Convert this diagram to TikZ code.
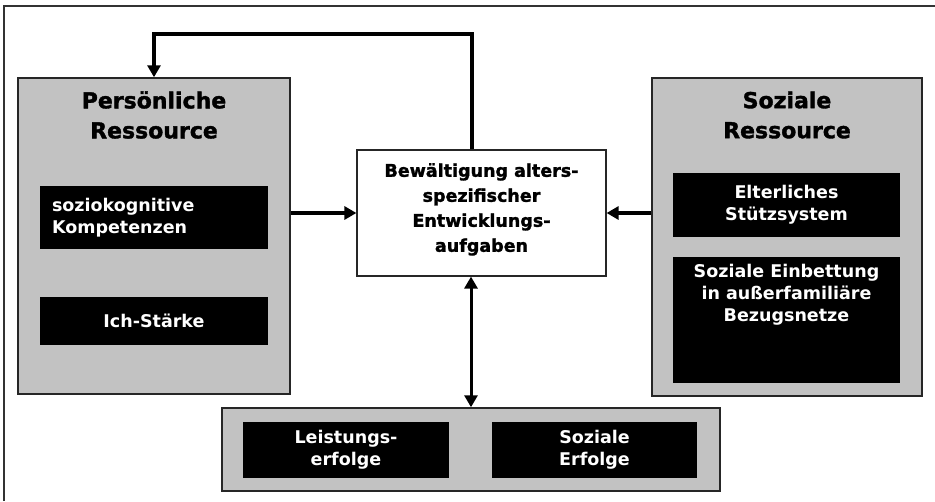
\documentclass[tikz,border=0pt]{standalone}
\usepackage{fontspec}
\setmainfont{DejaVu Sans}
\newfontfamily\fettschrift{DejaVu Sans}[BoldFeatures={FakeBold=1.6}]
\usetikzlibrary{arrows.meta, positioning, calc}
\definecolor{rastergrau}{RGB}{194, 194, 194}

\begin{document}
\begin{tikzpicture}[
    x=1pt, y=-1pt,
    rahmen/.style={draw=black!85, line width=1.5pt, fill=rastergrau, inner sep=0pt},
    schwarz/.style={fill=black, text=white, align=center, inner sep=0pt,
                    font=\fontsize{17.5}{22}\selectfont\bfseries},
    titel/.style={align=center, font=\fettschrift\fontsize{22}{30}\selectfont\bfseries},
    mitte/.style={draw=black!85, line width=1.2pt, fill=white, align=center,
                  inner sep=0pt, font=\fettschrift\fontsize{17.5}{25}\selectfont\bfseries},
    pfeil/.style={-{Triangle[length=12pt, width=13pt]}, line width=4pt},
    doppelpfeil/.style={{Triangle[length=12pt, width=13pt]}-{Triangle[length=12pt, width=13pt]}, line width=3pt}
  ]
    \useasboundingbox (0,0) rectangle (935,501);
    \draw[line width=1.2pt, black!80] (4,501) -- (4,6) -- (935,6);

    % Ressourcen links und rechts
    \node[rahmen, minimum width=272pt, minimum height=316pt] (pers) at (154,236) {};
    \node[titel] (perstitel) at (154,115) {Persönliche\\Ressource};
    \node[schwarz, minimum width=228pt, minimum height=63pt, text width=204pt, align=left] (kog) at (154,217.5) {soziokognitive\\Kompetenzen};
    \node[schwarz, minimum width=228pt, minimum height=48pt] (ich) at (154,321) {Ich-Stärke};

    \node[rahmen, minimum width=270pt, minimum height=318pt] (soz) at (787,237) {};
    \node[titel] (soztitel) at (787,115) {Soziale\\Ressource};
    \node[schwarz, minimum width=227pt, minimum height=64pt] (eltern) at (786.5,205) {Elterliches\\Stützsystem};
    \node[schwarz, minimum width=227pt, minimum height=126pt] (einbett) at (786.5,320)
      {\parbox[c][112pt][t]{220pt}{\centering Soziale Einbettung\\in außerfamiliäre\\Bezugsnetze}};

    % Entwicklungsaufgaben
    \node[mitte, minimum width=249pt, minimum height=126pt] (ziel) at (481.5,213)
      {Bewältigung alters-\\spezifischer\\Entwicklungs-\\aufgaben\\[-14pt]};

    % Erfolge unten
    \node[rahmen, minimum width=498pt, minimum height=83pt] (erfolg) at (471,449.5) {};
    \node[schwarz, minimum width=206pt, minimum height=56pt] (leist) at (346,450) {Leistungs-\\erfolge};
    \node[schwarz, minimum width=205pt, minimum height=56pt] (serf) at (594.5,450) {Soziale\\Erfolge};

    % Verbindungen
    \draw[pfeil] (ziel.west -| pers.east) -- (ziel.west);
    \draw[pfeil] (ziel.east -| soz.west) -- (ziel.east);
    \draw[pfeil] ([xshift=-9.5pt]ziel.north) |- ([yshift=43pt]pers.north) -- (pers.north);
    \draw[doppelpfeil] (ziel.south -| erfolg.north) -- (erfolg.north);
  \end{tikzpicture}
\end{document}
